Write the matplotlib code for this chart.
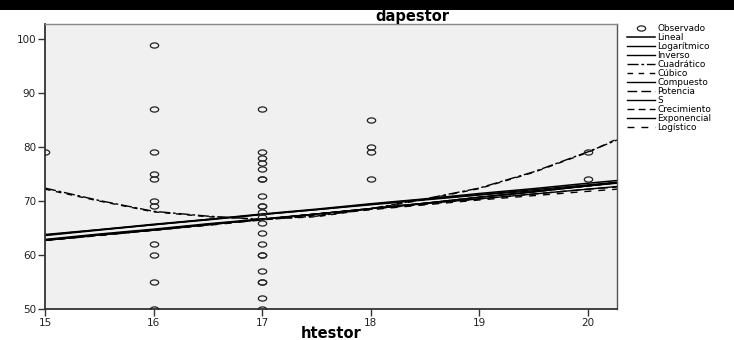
import numpy as np
import matplotlib
matplotlib.use("Agg")
import matplotlib.pyplot as plt
from matplotlib.path import Path
from matplotlib.lines import Line2D
from matplotlib.patches import Rectangle

# observed data (htestor -> dapestor values)
x15 = [79]
x16 = [99, 87, 79, 75, 74, 70, 69, 62, 60, 55, 50]
x17 = [87, 79, 78, 77, 76, 74, 74, 71, 69, 69, 68, 67, 66, 64, 62, 60, 60, 57, 55, 55, 52, 50]
x18 = [85, 80, 79, 74]
x20 = [79, 74]

# fitted curves
fit_x = [15, 15.5, 16, 16.5, 17, 17.5, 18, 18.5, 19, 19.5, 20, 20.27]
lineal      = [63.8, 64.7, 65.7, 66.6, 67.6, 68.5, 69.5, 70.4, 71.4, 72.3, 73.3, 73.8]
logaritmico = [63.7, 64.7, 65.6, 66.6, 67.5, 68.4, 69.4, 70.3, 71.2, 72.1, 73.0, 73.5]
inverso     = [63.6, 64.6, 65.6, 66.5, 67.5, 68.4, 69.3, 70.2, 71.1, 71.9, 72.8, 73.3]
cuadratico  = [72.4, 70.1, 68.1, 67.2, 66.6, 67.2, 68.6, 70.4, 72.4, 75.4, 79.1, 81.3]
cubico      = [72.2, 70.0, 68.0, 67.1, 66.6, 67.1, 68.5, 70.3, 72.3, 75.3, 79.0, 81.5]
compuesto   = [62.7, 63.7, 64.6, 65.6, 66.6, 67.6, 68.6, 69.6, 70.7, 71.7, 72.8, 73.4]
potencia    = [62.8, 63.8, 64.7, 65.7, 66.6, 67.6, 68.5, 69.4, 70.4, 71.3, 72.2, 72.6]
s_curva     = [62.9, 63.9, 64.8, 65.8, 66.7, 67.6, 68.6, 69.5, 70.4, 71.3, 72.2, 72.7]
crecimiento = [62.7, 63.7, 64.6, 65.6, 66.6, 67.6, 68.6, 69.6, 70.7, 71.7, 72.8, 73.4]
exponencial = [62.7, 63.7, 64.6, 65.6, 66.6, 67.6, 68.6, 69.6, 70.7, 71.7, 72.8, 73.4]
logistico   = [62.7, 63.6, 64.6, 65.5, 66.5, 67.4, 68.4, 69.3, 70.2, 71.0, 71.8, 72.2]

title = "dapestor"
xlabel = "htestor"
xticks = [15, 16, 17, 18, 19, 20]
yticks = [50, 60, 70, 80, 90, 100]
legend_labels = ["Observado", "Lineal", "Logarítmico", "Inverso", "Cuadrático", "Cúbico",
                 "Compuesto", "Potencia", "S", "Crecimiento", "Exponencial", "Logístico"]

groups = [(15, x15), (16, x16), (17, x17), (18, x18), (20, x20)]
xs = [k for k, v in groups for _ in v]
ys = [y for k, v in groups for y in v]

W, H = 734, 340
fig = plt.figure(figsize=(W / 100, H / 100), dpi=100)
fig.patches.append(Rectangle((0, 1 - 10 / H), 1, 10 / H, transform=fig.transFigure,
                             facecolor="black", edgecolor="none", zorder=0))
ax = fig.add_axes([45 / W, 1 - 309 / H, (617 - 45) / W, (309 - 24) / H])
ax.set_facecolor("#f0f0f0")

curves = [
    (lineal, "-", 1.1),
    (logaritmico, "-", 1.0),
    (inverso, "-", 1.0),
    (cuadratico, (0, (8, 2, 2, 2)), 1.0),
    (cubico, (0, (4, 4)), 1.0),
    (compuesto, "-", 1.0),
    (potencia, (0, (7, 3)), 1.0),
    (s_curva, "-", 1.0),
    (crecimiento, (0, (5, 3)), 1.0),
    (exponencial, "-", 1.0),
    (logistico, (0, (5, 5)), 1.0),
]

t = np.linspace(0, 2 * np.pi, 40)
ell = Path(np.column_stack([np.cos(t), 0.62 * np.sin(t)]), closed=True)

ax.plot(xs, ys, linestyle="none", marker=ell, markersize=6, markerfacecolor="none",
        markeredgecolor="#222222", markeredgewidth=0.9, zorder=3)
for yv, ls, lw in curves:
    ax.plot(fit_x, yv, color="black", linestyle=ls, linewidth=lw, zorder=2)

ax.set_xlim(15, 20.27)
ax.set_ylim(50, 102.8)
ax.set_xticks(xticks)
ax.set_yticks(yticks)
ax.tick_params(axis="both", labelsize=7.5, length=5, width=1.0, color="#333333",
               labelcolor="#222222", pad=1.5)
for s in ["left", "bottom"]:
    ax.spines[s].set_linewidth(1.3)
    ax.spines[s].set_color("#333333")
ax.spines["top"].set_color("#888888")
ax.spines["top"].set_linewidth(1.0)
ax.spines["right"].set_color("#555555")
ax.spines["right"].set_linewidth(1.0)

fig.text(412 / W, 1 - 16 / H, title, ha="center", va="center", fontsize=10.5,
         fontweight="bold")
fig.text(331 / W, 1 - 333 / H, xlabel, ha="center", va="center", fontsize=10.5,
         fontweight="bold")

handles = [Line2D([], [], linestyle="none", marker=ell, markersize=6, markerfacecolor="none",
                  markeredgecolor="#222222", markeredgewidth=0.9)]
for yv, ls, lw in curves:
    handles.append(Line2D([], [], color="black", linestyle=ls, linewidth=lw))
fig.legend(handles, legend_labels, loc="upper left", bbox_to_anchor=(627 / W, 1 - 24 / H),
           frameon=False, fontsize=6.4, handlelength=3.2, handletextpad=0.2,
           labelspacing=0.0, borderpad=0, borderaxespad=0)

fig.savefig("out.png", dpi=100)
